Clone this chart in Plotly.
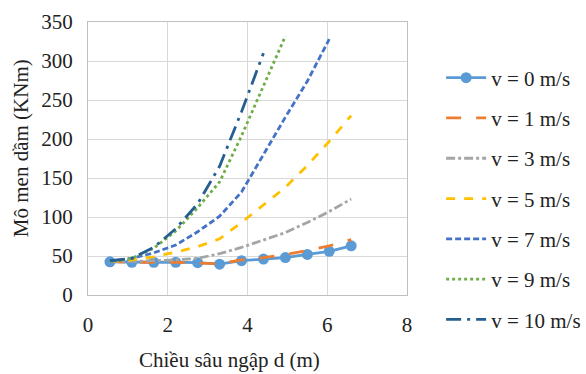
import plotly.graph_objects as go

depth = [0.55, 1.1, 1.65, 2.2, 2.75, 3.3, 3.85, 4.4, 4.95, 5.5, 6.05, 6.6]

v0 = [42.6, 42, 42, 42, 41.5, 39.5, 44, 46, 48, 52, 56, 63]
v1 = [43, 42, 42, 42, 41, 40, 45, 48, 52, 57, 63, 71]
v3 = [43, 43, 44, 45, 47, 53, 61, 71, 80, 93, 107, 123]
v5 = [43, 45, 49, 55, 62, 72, 93, 115, 138, 166, 197, 230]
v7 = [43, 47, 54, 64, 81, 101, 132, 180, 228, 274, 328]
v9 = [43, 47, 60, 82, 112, 145, 204, 268, 332]
v10 = [44, 47, 61, 85, 117, 165, 235, 310]

names = ["v = 0 m/s", "v = 1 m/s", "v = 3 m/s", "v = 5 m/s",
         "v = 7 m/s", "v = 9 m/s", "v = 10 m/s"]
series = [v0, v1, v3, v5, v7, v9, v10]
colors = ["#5B9BD5", "#ED7D31", "#A5A5A5", "#FFC000", "#4472C4", "#70AD47", "#255E91"]
dashes = ["solid", "longdash", "dashdot", "dash", "6px,3px", "dot", "longdashdot"]
x_title = "Chiều sâu ngập d (m)"
y_title = "Mô men dầm (KNm)"

fig = go.Figure()
for i, (nm, ys, c, d) in enumerate(zip(names, series, colors, dashes)):
    fig.add_trace(go.Scatter(
        x=depth[:len(ys)], y=ys, name=nm, legendgroup=str(i),
        mode="lines+markers" if i == 0 else "lines",
        line=dict(color=c, width=2.8, dash=d),
        marker=dict(size=11, color=c) if i == 0 else None,
    ))

font = "Times New Roman, Liberation Serif, serif"
tf = dict(family=font, size=21, color="#222222")
fig.update_layout(
    width=586, height=374,
    margin=dict(l=88, r=179, t=22, b=79, autoexpand=False),
    paper_bgcolor="white", plot_bgcolor="white",
    font=tf,
    showlegend=True,
    legend=dict(x=1.107, y=0.87, xanchor="left", yanchor="top",
                font=tf, tracegroupgap=10, itemwidth=40,
                bgcolor="rgba(0,0,0,0)"),
    xaxis=dict(range=[0, 8], dtick=2, tick0=0, tickfont=tf,
               showgrid=True, gridcolor="#D9D9D9", gridwidth=1.3,
               showline=True, linecolor="#BFBFBF", mirror=True, linewidth=1.3,
               zeroline=False, ticks="outside", ticklen=11,
               tickcolor="rgba(0,0,0,0)"),
    yaxis=dict(range=[0, 350], dtick=50, tick0=0, tickfont=tf,
               showgrid=True, gridcolor="#D9D9D9", gridwidth=1.3,
               showline=True, linecolor="#BFBFBF", mirror=True, linewidth=1.3,
               zeroline=False, ticks="outside", ticklen=10,
               tickcolor="rgba(0,0,0,0)"),
    annotations=[
        dict(text=x_title, xref="paper", yref="paper", x=0.445, y=-0.238,
             xanchor="center", yanchor="middle", showarrow=False, font=tf),
        dict(text=y_title, xref="paper", yref="paper", x=-0.21, y=0.538,
             xanchor="center", yanchor="middle", showarrow=False,
             textangle=-90, font=tf),
    ],
)

fig.write_html("out.html", config={"displayModeBar": False},
               post_script="document.body.style.margin='0';")
